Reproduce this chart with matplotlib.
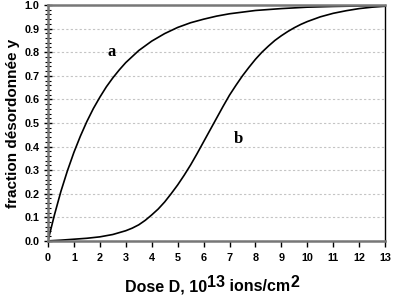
import matplotlib
matplotlib.use('Agg')
import matplotlib.pyplot as plt
from matplotlib.ticker import MultipleLocator, FormatStrFormatter

plt.rcParams['font.family'] = ['Liberation Sans', 'DejaVu Sans']

# courbe a : montee rapide
dose_a = [0, 0.25, 0.5, 0.75, 1, 1.25, 1.5, 1.75, 2, 2.25, 2.5, 2.75, 3, 3.5, 4, 4.5, 5,
          5.5, 6, 6.5, 7, 7.5, 8, 9, 10, 11, 12, 13]
frac_a = [0, 0.11, 0.21, 0.297, 0.375, 0.444, 0.506, 0.561, 0.609, 0.653, 0.691, 0.725,
          0.756, 0.807, 0.847, 0.879, 0.905, 0.925, 0.94, 0.953, 0.963, 0.97, 0.977,
          0.985, 0.991, 0.994, 0.996, 0.998]

# courbe b : sigmoide
dose_b = [0, 0.5, 1, 1.5, 2, 2.5, 3, 3.25, 3.5, 3.75, 4, 4.25, 4.5, 4.75, 5, 5.25, 5.5,
          5.75, 6, 6.25, 6.5, 6.75, 7, 7.25, 7.5, 7.75, 8, 8.25, 8.5, 8.75, 9, 9.25, 9.5,
          9.75, 10, 10.5, 11, 11.5, 12, 12.5, 13]
frac_b = [0, 0.003, 0.007, 0.011, 0.017, 0.027, 0.043, 0.054, 0.068, 0.087, 0.11, 0.135,
          0.165, 0.2, 0.237, 0.278, 0.322, 0.37, 0.42, 0.47, 0.52, 0.57, 0.618, 0.66,
          0.70, 0.736, 0.77, 0.8, 0.826, 0.85, 0.87, 0.888, 0.904, 0.918, 0.93, 0.95,
          0.965, 0.976, 0.985, 0.991, 0.995]

fig = plt.figure(figsize=(3.93, 2.97), dpi=100)
ax = fig.add_axes([0.122, 0.189, 0.858, 0.794])

ax.plot(dose_a, frac_a, color='black', lw=1.2)
ax.plot(dose_b, frac_b, color='black', lw=1.2)

ax.text(2.47, 0.8, 'a', family='Liberation Serif', fontweight='bold', fontsize=12,
        ha='center', va='center')
ax.text(7.34, 0.43, 'b', family='Liberation Serif', fontweight='bold', fontsize=12,
        ha='center', va='center')

ax.set_xlim(0, 13)
ax.set_ylim(0, 1)
ax.xaxis.set_major_locator(MultipleLocator(1))
ax.yaxis.set_major_locator(MultipleLocator(0.1))
ax.yaxis.set_minor_locator(MultipleLocator(0.02))
ax.yaxis.set_major_formatter(FormatStrFormatter('%.1f'))

ax.tick_params(axis='both', labelsize=7.8, width=1)
for lab in ax.get_xticklabels() + ax.get_yticklabels():
    lab.set_fontweight('bold')
ax.tick_params(axis='x', direction='out', length=4, pad=5)
ax.tick_params(axis='y', which='major', direction='inout', length=6, pad=3)
ax.tick_params(axis='y', which='minor', direction='inout', length=4, width=0.8)

ax.grid(axis='y', which='major', color='#c4c4c4', linestyle=(0, (2, 2)), lw=0.8)

for s in ['top', 'bottom', 'left']:
    ax.spines[s].set_color('#777777')
    ax.spines[s].set_linewidth(1.8)
ax.spines['right'].set_color('black')
ax.spines['right'].set_linewidth(1)

ax.set_ylabel('fraction désordonnée y', fontsize=11, fontweight='bold', labelpad=3)

# titre de l'axe x en morceaux pour des exposants plus grands
kw = dict(fontsize=11.5, fontweight='bold')
t1 = fig.text(0.318, 0.02, 'Dose D, 10', **kw)
t2 = ax.annotate('13', xy=(1, 0.25), xycoords=t1, va='bottom', ha='left', **kw)
t3 = ax.annotate(' ions/cm', xy=(1, 0), xycoords=(t2, t1), va='bottom', ha='left', **kw)
t4 = ax.annotate('2', xy=(1, 0.25), xycoords=t3, va='bottom', ha='left', **kw)

fig.savefig('out.png', dpi=100)
